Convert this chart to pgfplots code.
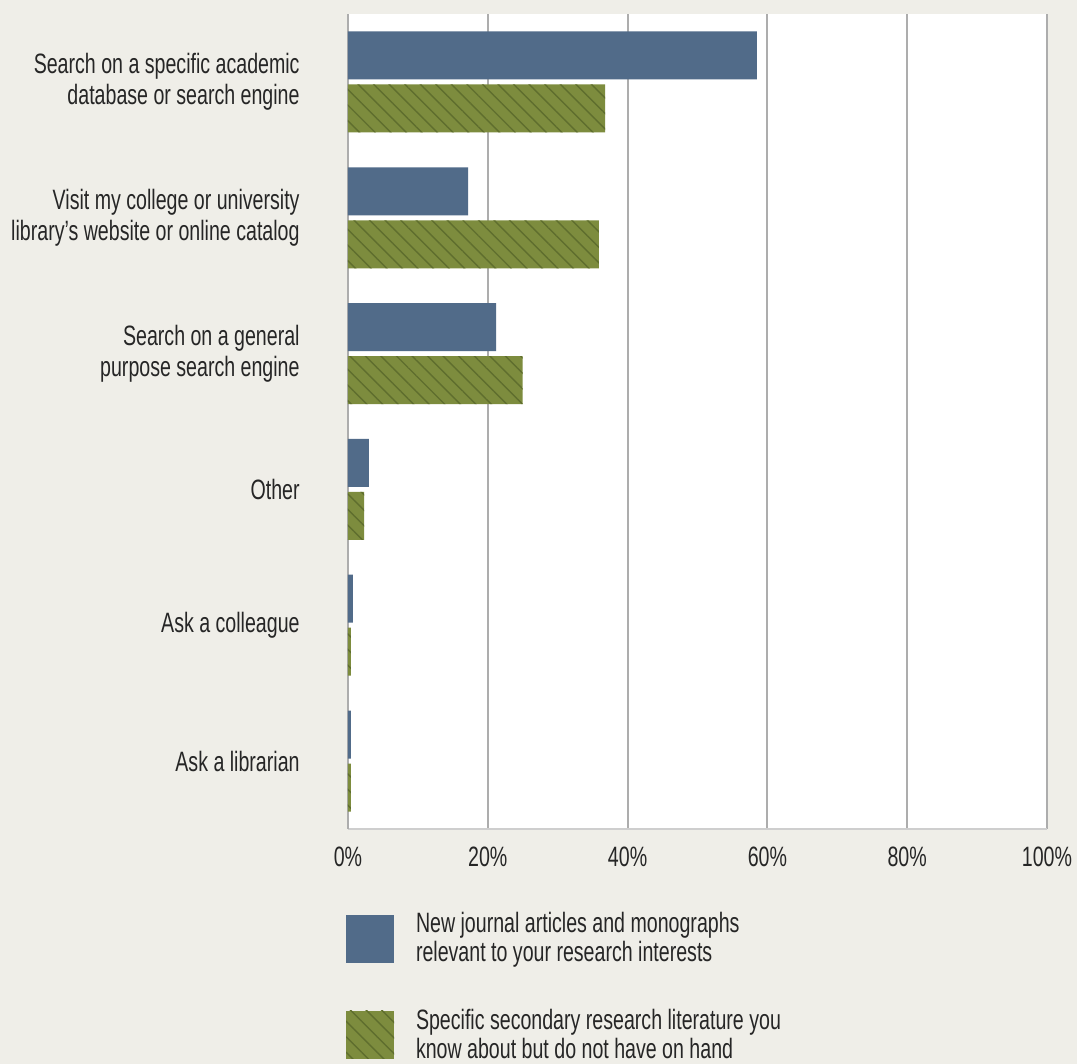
\documentclass[border=0pt]{standalone}
\usepackage{fontspec}
\setmainfont{Liberation Sans}[FakeStretch=0.70]
\usepackage{pgfplots}
\pgfplotsset{compat=1.18}
\usetikzlibrary{patterns.meta}
\definecolor{bgcol}{HTML}{EFEEE8}
\definecolor{bluebar}{HTML}{516B89}
\definecolor{greenbar}{HTML}{7D8C3E}
\definecolor{greenline}{HTML}{5F6E2E}
\definecolor{gridc}{HTML}{ADADAD}
\definecolor{txt}{HTML}{262626}
\begin{document}
\begin{tikzpicture}
\fill[bgcol,use as bounding box] (-174pt,-117.5pt) rectangle (364.5pt,414.5pt);
\begin{axis}[
  at={(0,0)}, anchor=south west,
  scale only axis, width=349.5pt, height=407.5pt,
  xmin=0, xmax=100, ymin=0.5, ymax=6.5,
  axis background/.style={fill=white},
  axis x line*=bottom, axis y line*=left,
  x axis line style={-, draw=gridc!60, line width=1pt},
  y axis line style={-, draw=gridc, line width=1pt},
  xmajorgrids, grid style={draw=gridc, line width=1pt},
  major tick length=0pt,
  xtick={0,20,40,60,80,100},
  xticklabel={\pgfmathprintnumber{\tick}\%},
  /pgf/number format/assume math mode=true,
  xticklabel style={font=\fontsize{14}{15.5}\selectfont, text=txt, inner sep=0pt, anchor=north, yshift=-9pt},
  ytick={1,2,3,4,5,6},
  yticklabels={{Ask a librarian},{Ask a colleague},{Other},{Search on a general\\purpose search engine},{Visit my college or university\\library’s website or online catalog},{Search on a specific academic\\database or search engine}},
  yticklabel style={font=\fontsize{14}{15.5}\selectfont, text=txt, align=right, inner sep=0pt, anchor=east, xshift=-24pt},
  xbar, bar width=24pt,
  legend style={at={(axis description cs:-0.012,-0.097)}, anchor=north west, draw=none, fill=none,
    font=\fontsize{14}{14.5}\selectfont, text=txt, row sep=22pt,
    nodes={align=left, inner sep=0pt}},
  legend cell align=left,
  legend image code/.code={\fill[#1] (0pt,-12pt) rectangle (24pt,12pt); \path (35pt,0pt);},
]
\addplot[draw=none, fill=bluebar, bar shift=13.25pt] coordinates {(58.5,6) (17.2,5) (21.2,4) (3.0,3) (0.7,2) (0.4,1)};
\addplot[draw=none, fill=greenbar, postaction={pattern={Lines[angle=-45,distance=5.5pt,line width=0.7pt]}, pattern color=greenline}, bar shift=-13.25pt] coordinates {(36.8,6) (35.9,5) (25.0,4) (2.3,3) (0.4,2) (0.4,1)};
\legend{{New journal articles and monographs\\relevant to your research interests},{Specific secondary research literature you\\know about but do not have on hand}}
\end{axis}
\end{tikzpicture}
\end{document}
